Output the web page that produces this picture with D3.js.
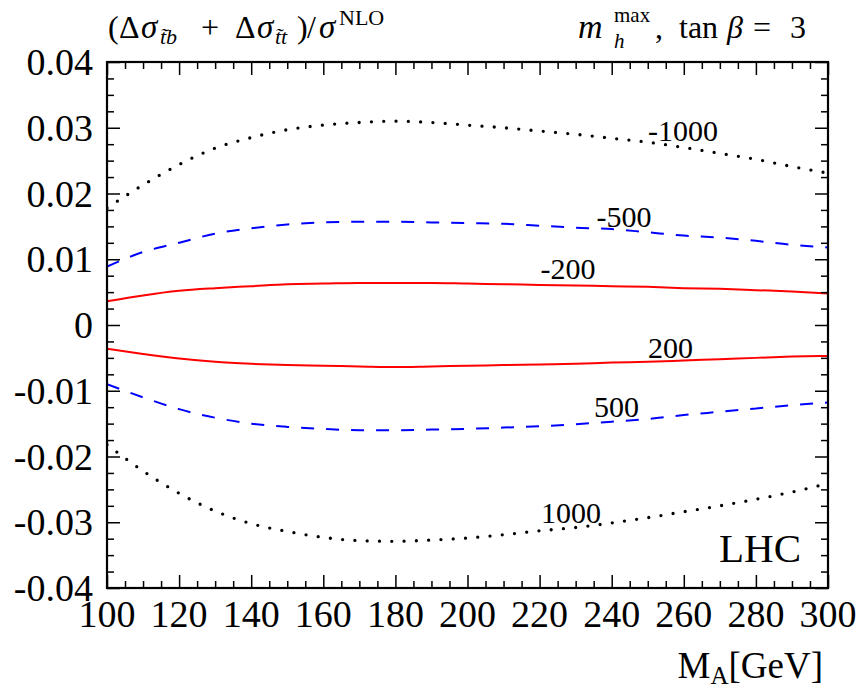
<!DOCTYPE html>
<html><head><meta charset="utf-8">
<script src="https://cdn.jsdelivr.net/npm/d3@7"></script>
<style>
body{margin:0;background:#fff}
svg{display:block}
svg text{font-family:"Liberation Serif","Times New Roman",Times,serif;fill:#000}
</style>
</head><body>
<svg id="chart" width="862" height="689" font-family="Liberation Serif, Times New Roman, Times, serif"></svg>
<script>
// ---- data ----
const massA = [100,110,120,130,140,150,160,170,180,190,200,210,220,230,240,250,260,270,280,290,300];
const muMinus1000 = [0.0178,0.0213,0.0244,0.0269,0.0285,0.0297,0.0304,0.0308,0.0310,0.0308,0.0304,0.0300,0.0295,0.0290,0.0284,0.0278,0.0270,0.0261,0.0252,0.0241,0.0231];
const muMinus500  = [0.0089,0.0111,0.0125,0.0139,0.0147,0.0153,0.0156,0.0157,0.0157,0.0156,0.0155,0.0154,0.0151,0.0148,0.0146,0.0141,0.0136,0.0133,0.0128,0.0122,0.0118];
const muMinus200  = [0.0036,0.0045,0.0052,0.0056,0.0059,0.0062,0.0063,0.0064,0.0064,0.0064,0.0063,0.0062,0.0061,0.0060,0.0059,0.0058,0.0056,0.0055,0.0053,0.0051,0.0048];
const muPlus200   = [-0.0036,-0.0044,-0.0051,-0.0056,-0.0059,-0.0061,-0.0062,-0.0063,-0.0064,-0.0063,-0.0062,-0.0061,-0.0060,-0.0059,-0.0057,-0.0056,-0.0054,-0.0052,-0.0050,-0.0048,-0.0047];
const muPlus500   = [-0.0090,-0.0110,-0.0128,-0.0141,-0.0150,-0.0155,-0.0158,-0.0160,-0.0160,-0.0159,-0.0158,-0.0156,-0.0154,-0.0151,-0.0147,-0.0143,-0.0137,-0.0132,-0.0127,-0.0122,-0.0118];
const muPlus1000  = [-0.0182,-0.0222,-0.0256,-0.0283,-0.0302,-0.0314,-0.0323,-0.0328,-0.0329,-0.0327,-0.0324,-0.0319,-0.0313,-0.0308,-0.0301,-0.0293,-0.0284,-0.0275,-0.0265,-0.0254,-0.0241];
const seriesNames = ["-1000","-500","-200","200","500","1000"];
const xTickValues = [100,120,140,160,180,200,220,240,260,280,300];
const xTickLabels = ["100","120","140","160","180","200","220","240","260","280","300"];
const yTickValues = [-0.04,-0.03,-0.02,-0.01,0,0.01,0.02,0.03,0.04];
const yTickLabels = ["-0.04","-0.03","-0.02","-0.01","0","0.01","0.02","0.03","0.04"];
// label anchor points (data coordinates) for the curve labels
const labelMass  = [259.8,243.4,227.9,256.3,241.3,228.7];
const labelValue = [0.0280,0.0149,0.0070,-0.0050,-0.0140,-0.0301];

// ---- layout ----
const svg = d3.select("#chart");
const FONT = "Liberation Serif, Times New Roman, Times, serif";
const L = 107, R = 828, T = 62, B = 588;
const x = d3.scaleLinear().domain([100,300]).range([L,R]);
const y = d3.scaleLinear().domain([-0.04,0.04]).range([B,T]);

const styles = [
  {color:"#000", width:3.3, dash:"0 12.3", cap:"round"},
  {color:"#0000ff", width:2, dash:"13 12", cap:"butt"},
  {color:"#ff0000", width:2, dash:null, cap:"butt"},
  {color:"#ff0000", width:2, dash:null, cap:"butt"},
  {color:"#0000ff", width:2, dash:"13 12", cap:"butt"},
  {color:"#000", width:3.3, dash:"0 12.3", cap:"round"}
];
const allSeries = [muMinus1000,muMinus500,muMinus200,muPlus200,muPlus500,muPlus1000];

svg.append("clipPath").attr("id","plotclip").append("rect")
  .attr("x",L).attr("y",T).attr("width",R-L).attr("height",B-T);

const line = d3.line().x(d=>x(d[0])).y(d=>y(d[1])).curve(d3.curveMonotoneX);
const curves = svg.append("g").attr("clip-path","url(#plotclip)");
allSeries.forEach((s,i)=>{
  const st = styles[i];
  const p = curves.append("path")
    .datum(massA.map((m,j)=>[m,s[j]]))
    .attr("d",line).attr("fill","none")
    .attr("stroke",st.color).attr("stroke-width",st.width)
    .attr("stroke-linecap",st.cap);
  if(st.dash) p.attr("stroke-dasharray",st.dash);
});

function txt(xp,yp,size){
  return svg.append("text").attr("x",xp).attr("y",yp).attr("font-size",size).attr("font-family",FONT);
}

// curve labels
seriesNames.forEach((n,i)=>{
  txt(x(labelMass[i]),y(labelValue[i]),30).attr("text-anchor","middle").text(n);
});

// ticks (inward) on all four sides
function tickAxis(axisFn, scale, values, size, transform){
  const g = svg.append("g").attr("transform",transform)
    .call(axisFn(scale).tickValues(values).tickSize(-size).tickSizeOuter(0).tickFormat(""));
  g.select(".domain").remove();
  g.selectAll("line").attr("stroke","#000").attr("stroke-width",1.5);
  g.selectAll("text").remove();
}
const xMinor = d3.range(100,301,5).filter(v=>v%20!==0);
const yMinor = d3.range(-16,17).filter(k=>k%4!==0).map(k=>k*0.0025);
tickAxis(d3.axisBottom,x,xTickValues,13,`translate(0,${B})`);
tickAxis(d3.axisBottom,x,xMinor,7,`translate(0,${B})`);
tickAxis(d3.axisTop,x,xTickValues,13,`translate(0,${T})`);
tickAxis(d3.axisTop,x,xMinor,7,`translate(0,${T})`);
tickAxis(d3.axisLeft,y,yTickValues,13,`translate(${L},0)`);
tickAxis(d3.axisLeft,y,yMinor,7,`translate(${L},0)`);
tickAxis(d3.axisRight,y,yTickValues,13,`translate(${R},0)`);
tickAxis(d3.axisRight,y,yMinor,7,`translate(${R},0)`);

// frame
svg.append("rect").attr("x",L).attr("y",T).attr("width",R-L).attr("height",B-T)
  .attr("fill","none").attr("stroke","#000").attr("stroke-width",2.2);

// tick labels
xTickValues.forEach((v,i)=>{
  txt(x(v),B+39,38).attr("text-anchor","middle").text(xTickLabels[i]);
});
yTickValues.forEach((v,i)=>{
  txt(L-14,y(v)+13,38).attr("text-anchor","end").text(yTickLabels[i]);
});

// x-axis title
const xt = txt(823,678,37).attr("text-anchor","end");
xt.append("tspan").text("M");
xt.append("tspan").attr("font-size",25).attr("dy",6).text("A");
xt.append("tspan").attr("dy",-6).text("[GeV]");

// LHC
txt(801,562,41).attr("text-anchor","end").text("LHC");

// formulas (pieces placed individually)
function piece(xp,yp,size,str,italic){
  const t = txt(xp,yp,size).text(str);
  if(italic) t.attr("font-style","italic");
  return t;
}
// top-left
piece(108,38,32,"(",false);
piece(119,38,32,"Δ",false);
piece(141,38,33,"σ",true);
piece(160,44,22,"t\u0303b",true);
piece(201,38,32,"+",false);
piece(235,38,32,"Δ",false);
piece(257,38,33,"σ",true);
piece(275,44,22,"t\u0303t",true);
piece(297,38,32,")",false);
piece(307,38,32,"/",false);
piece(319,38,33,"σ",true);
piece(339,25,22,"NLO",false);

// top-right
piece(578,38,34,"m",true);
piece(614,22,21,"max",false);
piece(614,48,21,"h",true);
piece(655,38,32,",",false);
piece(679,38,32,"tan",false);
piece(727,38,32,"β",true);
piece(753,38,32,"=",false);
piece(790,38,32,"3",false);
</script>
</body></html>
